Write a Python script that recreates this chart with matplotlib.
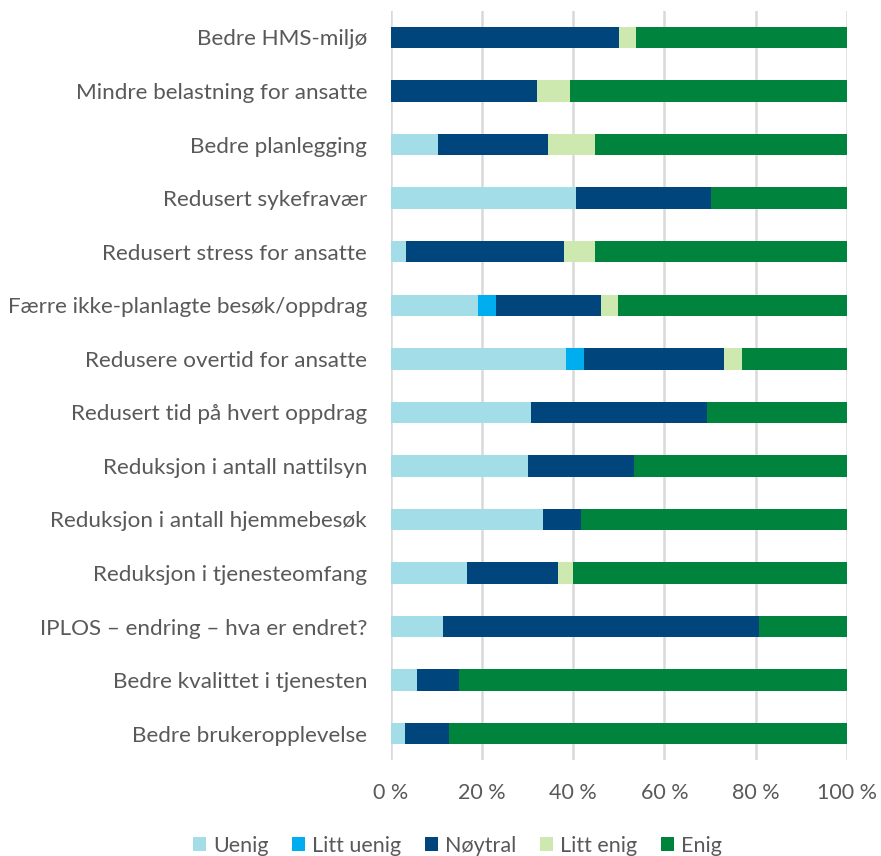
import matplotlib
matplotlib.use('Agg')
import matplotlib.pyplot as plt
import numpy as np

# Categories, top to bottom as shown
categories = [
    "Bedre HMS-miljø",
    "Mindre belastning for ansatte",
    "Bedre planlegging",
    "Redusert sykefravær",
    "Redusert stress for ansatte",
    "Færre ikke-planlagte besøk/oppdrag",
    "Redusere overtid for ansatte",
    "Redusert tid på hvert oppdrag",
    "Reduksjon i antall nattilsyn",
    "Reduksjon i antall hjemmebesøk",
    "Reduksjon i tjenesteomfang",
    "IPLOS – endring – hva er endret?",
    "Bedre kvalittet i tjenesten",
    "Bedre brukeropplevelse",
]

# Shares in percent per answer option
uenig      = [0.0, 0.0, 10.3, 40.7, 3.4, 19.2, 38.5, 30.8, 30.0, 33.3, 16.7, 11.5, 5.8, 3.1]
litt_uenig = [0.0, 0.0, 0.0, 0.0, 0.0, 3.8, 3.8, 0.0, 0.0, 0.0, 0.0, 0.0, 0.0, 0.0]
noytral    = [50.0, 32.1, 24.1, 29.6, 34.5, 23.1, 30.8, 38.5, 23.3, 8.3, 20.0, 69.2, 9.2, 9.7]
litt_enig  = [3.8, 7.1, 10.3, 0.0, 6.9, 3.8, 3.8, 0.0, 0.0, 0.0, 3.3, 0.0, 0.0, 0.0]
enig       = [46.2, 60.7, 55.2, 29.6, 55.2, 50.0, 23.1, 30.8, 46.7, 58.3, 60.0, 19.2, 85.0, 87.2]

series_names = ["Uenig", "Litt uenig", "Nøytral", "Litt enig", "Enig"]
colors = ["#A3DEE8", "#00AEEF", "#00457C", "#CDE9AF", "#00843D"]

plt.rcParams['font.family'] = ['Lato', 'DejaVu Sans']
text_color = "#595959"
fs = 15.5

fig = plt.figure(figsize=(8.81, 8.56), dpi=100)
ax = fig.add_axes([0.4435, 0.1116, 0.5179, 0.8759])

y = np.arange(len(categories))
left = np.zeros(len(categories))
for name, vals, col in zip(series_names, [uenig, litt_uenig, noytral, litt_enig, enig], colors):
    vals = np.array(vals)
    ax.barh(y, vals, left=left, height=0.4, color=col, label=name, zorder=3)
    left += vals

ax.set_ylim(len(categories) - 0.5, -0.5)
ax.set_xlim(0, 100)
ax.set_xticks([0, 20, 40, 60, 80, 100])
ax.set_xticklabels([f"{v} %" for v in [0, 20, 40, 60, 80, 100]])
ax.set_yticks(y)
ax.set_yticklabels(categories)

ax.tick_params(axis='y', length=0, pad=17, labelsize=16.2, labelcolor=text_color)
ax.tick_params(axis='x', length=0, pad=16, labelsize=fs, labelcolor=text_color)
ax.xaxis.grid(True, color="#D9D9D9", linewidth=1.8, zorder=0)
for s in ax.spines.values():
    s.set_visible(False)

leg = fig.legend(loc='center', bbox_to_anchor=(0.519, 0.012), ncol=5, frameon=False,
                 fontsize=fs, handlelength=0.6, handleheight=0.6, handletextpad=0.33,
                 columnspacing=1.1, labelcolor=text_color)

fig.savefig("out.png", dpi=100)
